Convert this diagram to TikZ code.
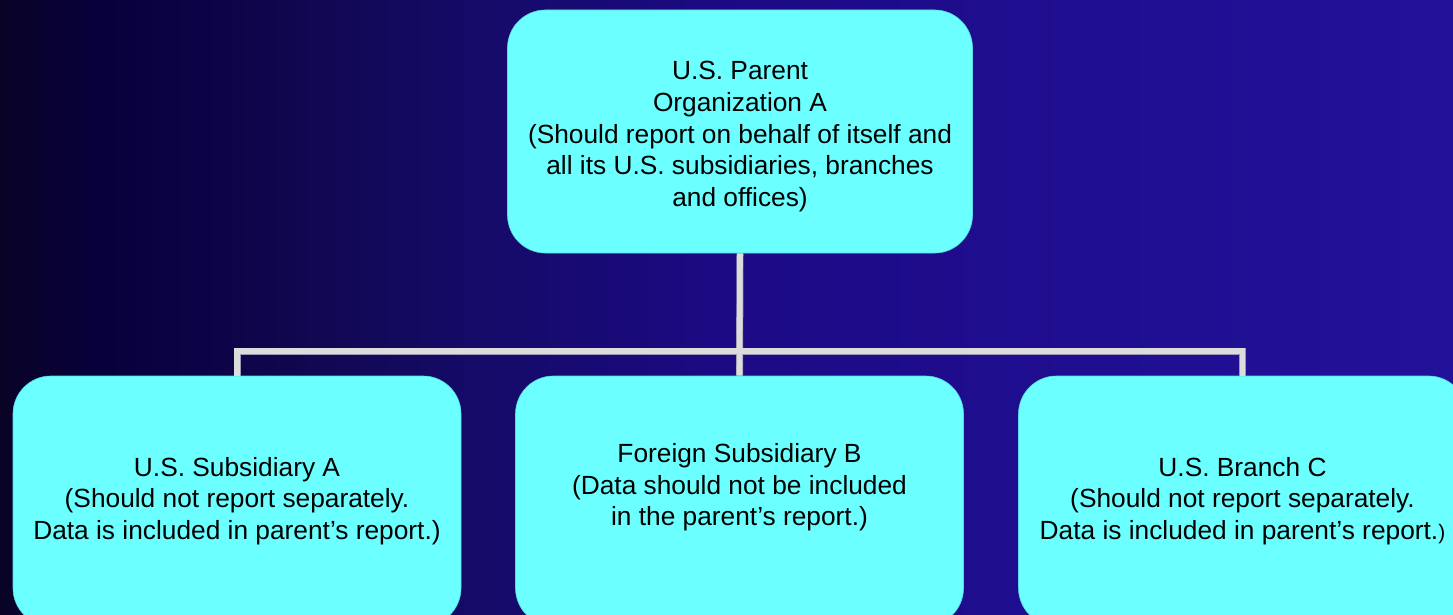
\documentclass[tikz,border=0pt]{standalone}
\usepackage{fontspec}
\setmainfont{Liberation Sans}
\definecolor{boxcyan}{HTML}{6BFFFF}
\definecolor{boxedge}{HTML}{5AD8E8}
\definecolor{linegray}{HTML}{DCDCDC}
\definecolor{lineedge}{HTML}{9A96B4}
\definecolor{bgA}{HTML}{090326}
\definecolor{bgB}{HTML}{07003C}
\definecolor{bgC}{HTML}{10064F}
\definecolor{bgD}{HTML}{130A5E}
\definecolor{bgE}{HTML}{1C0A86}
\definecolor{bgF}{HTML}{22129A}
\pgfdeclarehorizontalshading{bgshade}{100bp}{color(0bp)=(bgA); color(25bp)=(bgA); color(28.44bp)=(bgB); color(34.98bp)=(bgC); color(38.77bp)=(bgD); color(50.46bp)=(bgE); color(75bp)=(bgF); color(100bp)=(bgF)}
\begin{document}
\begin{tikzpicture}[x=1pt,y=-1pt,
  orgbox/.style={rectangle, rounded corners=38pt, fill=boxcyan, draw=boxedge, line width=0.6pt,
    align=center, inner sep=0pt, font=\fontsize{26.3}{31.7}\selectfont},
  topbox/.style={orgbox, minimum width=465pt, minimum height=243pt},
  subbox/.style={orgbox, minimum width=448pt, minimum height=250pt},
  connedge/.style={draw=lineedge, line width=7pt, line join=miter},
  conn/.style={draw=linegray, line width=5.6pt, line join=miter}]
\useasboundingbox (0,0) rectangle (1453,615);
\clip (0,0) rectangle (1453,615);
\shade[shading=bgshade] (0,0) rectangle (1453,615);
\coordinate (bus) at (740,351);
\node[topbox] (top) at (740,131.5) {\rule{0pt}{29pt}U.S. Parent\\Organization A\\(Should report on behalf of itself and\\all its U.S. subsidiaries, branches\\and offices)};
\node[subbox] (a) at (237,501) {U.S. Subsidiary A\\(Should not report separately.\\Data is included in parent’s report.)};
\node[subbox] (b) at (739.5,501) {Foreign Subsidiary B\\(Data should not be included\\in the parent’s report.)\rule[-33pt]{0pt}{33pt}};
\node[subbox] (c) at (1242.5,501) {U.S. Branch C\\(Should not report separately.\\Data is included in parent’s report.{\fontsize{21}{31.7}\selectfont)}};
\draw[connedge] (a.north) -- (a.north |- bus) -- (c.north |- bus) -- (c.north);
\draw[connedge] (top.south) -- (b.north);
\draw[conn] (a.north) -- (a.north |- bus) -- (c.north |- bus) -- (c.north);
\draw[conn] (top.south) -- (b.north);
\end{tikzpicture}
\end{document}
